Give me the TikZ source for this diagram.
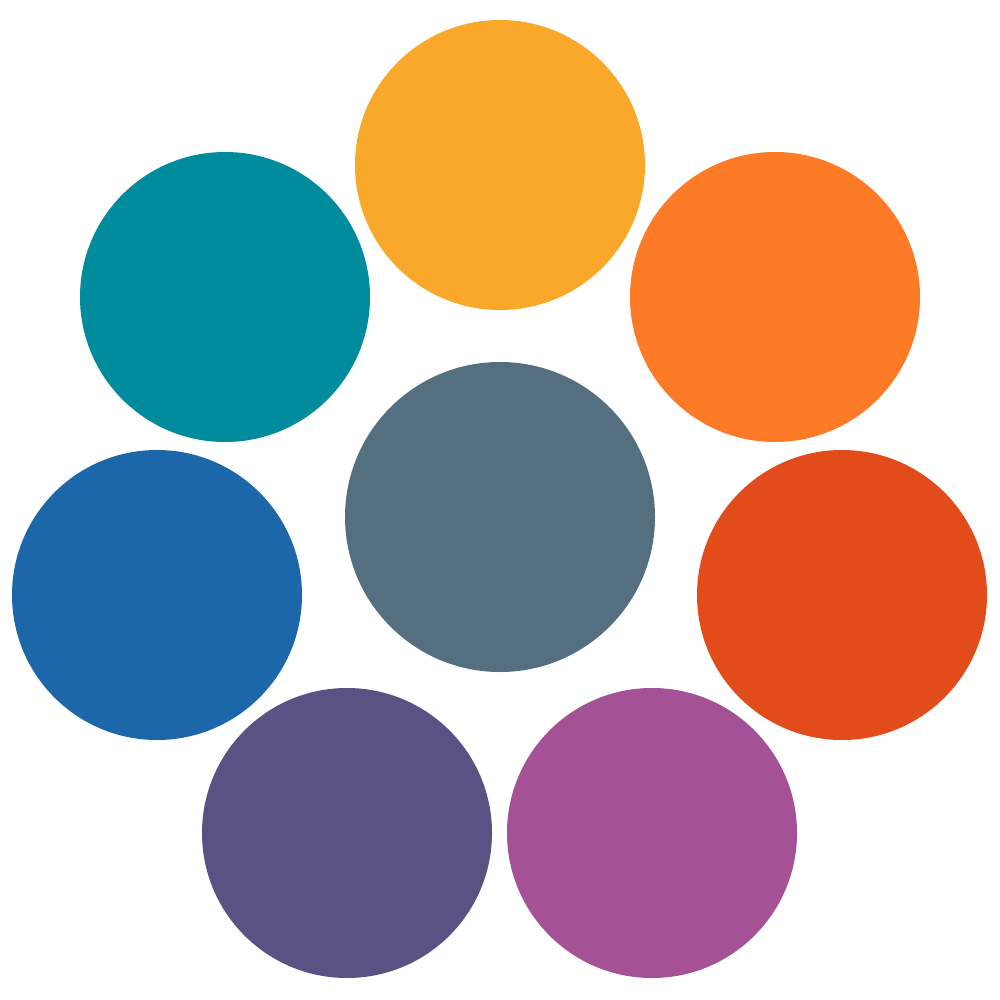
\documentclass[tikz,border=0pt]{standalone}
\definecolor{cyellow}{HTML}{F9A82A}
\definecolor{corange}{HTML}{FD7A26}
\definecolor{cred}{HTML}{E24B1A}
\definecolor{cmagenta}{HTML}{A45196}
\definecolor{cpurple}{HTML}{5A5283}
\definecolor{cblue}{HTML}{1C67AA}
\definecolor{cteal}{HTML}{008C9C}
\definecolor{cgray}{HTML}{546F80}
\begin{document}
\begin{tikzpicture}[x=1pt,y=-1pt,
  dot/.style={circle,inner sep=0pt,minimum size=290pt,draw=none,fill=#1},
  hub/.style={circle,inner sep=0pt,minimum size=310pt,draw=none,fill=#1}]
\useasboundingbox (0,0) rectangle (1000,1000);
\fill[white] (0,0) rectangle (1000,1000);
\node[dot=cyellow] (top) at (500,165) {};
\node[dot=corange] (ur) at (775,297) {};
\node[dot=cred] (r) at (842,595) {};
\node[dot=cmagenta] (lr) at (652,833) {};
\node[dot=cpurple] (ll) at (347,833) {};
\node[dot=cblue] (l) at (157,595) {};
\node[dot=cteal] (ul) at (225,297) {};
\node[hub=cgray] (c) at (500,517) {};
\end{tikzpicture}
\end{document}
